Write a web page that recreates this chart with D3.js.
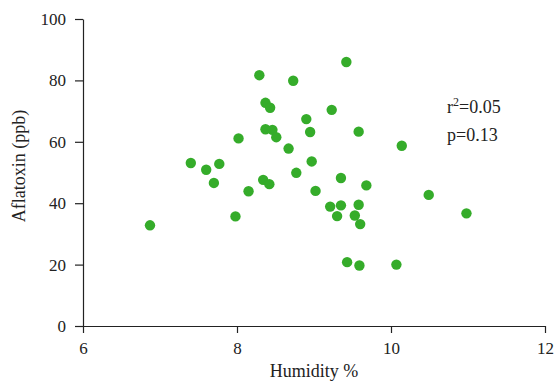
<!DOCTYPE html>
<html>
<head>
<meta charset="utf-8">
<script src="https://cdn.jsdelivr.net/npm/d3@7"></script>
<style>
  body { margin: 0; background: #fff; }
  text { font-family: "Liberation Serif", "DejaVu Serif", serif; fill: #222; }
  .axis path, .axis line { stroke: #222; stroke-width: 1.2; }
</style>
</head>
<body>
<div id="chart"></div>
<script>
var humidity = [6.87, 7.40, 7.60, 7.77, 7.70, 7.98, 8.02, 8.15, 8.29, 8.37,
                8.43, 8.37, 8.46, 8.51, 8.34, 8.42, 8.67, 8.73, 8.77, 8.90,
                8.95, 8.97, 9.02, 9.23, 9.42, 9.35, 9.21, 9.35, 9.30, 9.43,
                9.53, 9.58, 9.60, 9.58, 9.59, 9.68, 10.07, 10.14, 10.49, 10.98];
var aflatoxin = [32.8, 53.1, 50.9, 52.8, 46.6, 35.7, 61.1, 43.9, 81.7, 72.7,
                 71.1, 64.1, 63.9, 61.5, 47.6, 46.2, 57.8, 79.9, 49.9, 67.4,
                 63.2, 53.6, 44.0, 70.4, 86.0, 48.2, 38.9, 39.3, 35.8, 20.8,
                 36.0, 39.5, 33.2, 63.3, 19.7, 45.8, 20.0, 58.7, 42.7, 36.7];
var xTicks = [6, 8, 10, 12];
var yTicks = [0, 20, 40, 60, 80, 100];
var stats = ["r\u00b2=0.05", "p=0.13"];

var w = 560, h = 387,
    m = [19, 15, 61, 83]; // top right bottom left

var x = d3.scaleLinear().domain([6, 12]).range([m[3], w - m[1]]);
var y = d3.scaleLinear().domain([0, 100]).range([h - m[2], m[0]]);

var svg = d3.select("#chart").append("svg")
    .attr("width", w)
    .attr("height", h);

function styleTicks(g) {
  g.attr("font-family", null);
  g.selectAll("text").attr("font-size", 17);
}

svg.append("g")
    .attr("class", "axis")
    .attr("transform", "translate(0," + (h - m[2]) + ")")
    .call(d3.axisBottom(x).tickValues(xTicks).tickFormat(d3.format("d"))
      .tickSize(7).tickSizeOuter(0).tickPadding(9))
    .call(styleTicks);

svg.append("g")
    .attr("class", "axis")
    .attr("transform", "translate(" + m[3] + ",0)")
    .call(d3.axisLeft(y).tickValues(yTicks).tickFormat(d3.format("d"))
      .tickSize(8).tickSizeOuter(0).tickPadding(9))
    .call(styleTicks);

svg.append("g").selectAll("circle")
    .data(humidity)
  .enter().append("circle")
    .attr("cx", function(d) { return x(d); })
    .attr("cy", function(d, i) { return y(aflatoxin[i]); })
    .attr("r", 5.2)
    .attr("fill", "#35ac2a");

// x label
svg.append("text")
    .attr("x", (x(6) + x(12)) / 2)
    .attr("y", 377)
    .attr("text-anchor", "middle")
    .attr("font-size", 18)
    .text("Humidity %");

// y label
svg.append("text")
    .attr("transform", "translate(25,166) rotate(-90)")
    .attr("text-anchor", "middle")
    .attr("font-size", 18)
    .text("Aflatoxin (ppb)");

// stats
var st = svg.append("g").attr("font-size", 18);
var r2 = st.append("text").attr("x", 447).attr("y", 113);
r2.append("tspan").text("r");
r2.append("tspan").attr("dy", -7).attr("font-size", 12).text("2");
r2.append("tspan").attr("dy", 7).text(stats[0].slice(2));
st.append("text").attr("x", 447).attr("y", 141).text(stats[1]);
</script>
</body>
</html>
